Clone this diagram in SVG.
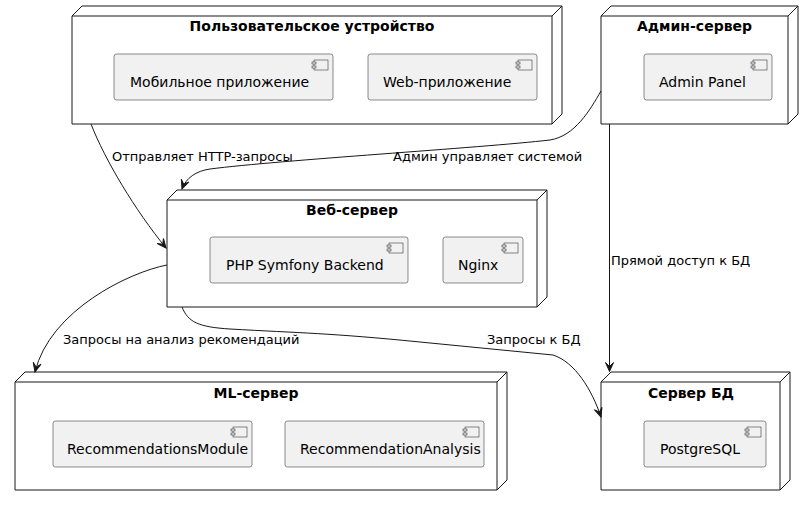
<svg xmlns="http://www.w3.org/2000/svg" width="812" height="506" viewBox="0 0 812 506">
<style>
.node{fill:#FFFFFF;stroke:#181818;stroke-width:1}
.nodeline{fill:none;stroke:#181818;stroke-width:1}
.title{font-family:"DejaVu Sans",sans-serif;font-size:14px;font-weight:bold;fill:#000;text-anchor:middle}
.comp{fill:#F1F1F1;stroke:#181818;stroke-width:0.5}
.icon{fill:#F1F1F1;stroke:#181818;stroke-width:0.5}
.ctext{font-family:"DejaVu Sans",sans-serif;font-size:14px;fill:#000}
.edge{fill:none;stroke:#181818;stroke-width:1}
.elabel{font-family:"DejaVu Sans",sans-serif;font-size:13px;fill:#000}
</style>
<defs>
<marker id="arr" viewBox="-10 -5 11 10" markerWidth="11" markerHeight="10" refX="0" refY="0" markerUnits="userSpaceOnUse" orient="auto">
<path d="M0,0 L-9,-4 L-5,0 L-9,4 Z" fill="#181818" stroke="#181818" stroke-width="1"/>
</marker>
<g id="cicon">
<rect x="-19" y="6" width="14" height="10" class="icon"/>
<rect x="-21" y="8" width="4" height="2" class="icon"/>
<rect x="-21" y="12" width="4" height="2" class="icon"/>
</g>
</defs>

<g id="user-device">
<path class="node" d="M72,16 L82,6 L562,6 L562,114 L552,124 L72,124 Z"/>
<path class="nodeline" d="M552,16 L562,6 M72,16 L552,16 L552,124"/>
<text class="title" x="312" y="31">Пользовательское устройство</text>
<g id="mobile-app">
<rect class="comp" x="114" y="54" width="219" height="46" rx="2.5"/>
<use href="#cicon" x="333" y="54"/>
<text class="ctext" x="130" y="87">Мобильное приложение</text>
</g>
<g id="web-app">
<rect class="comp" x="368" y="54" width="169" height="46" rx="2.5"/>
<use href="#cicon" x="537" y="54"/>
<text class="ctext" x="383" y="87">Web-приложение</text>
</g>
</g>

<g id="admin-server">
<path class="node" d="M601,16 L611,6 L798,6 L798,114 L788,124 L601,124 Z"/>
<path class="nodeline" d="M788,16 L798,6 M601,16 L788,16 L788,124"/>
<text class="title" x="694.5" y="31">Админ-сервер</text>
<g id="admin-panel">
<rect class="comp" x="644" y="54" width="128" height="46" rx="2.5"/>
<use href="#cicon" x="772" y="54"/>
<text class="ctext" x="659" y="87">Admin Panel</text>
</g>
</g>

<g id="web-server">
<path class="node" d="M167,200 L177,190 L547,190 L547,297 L537,307 L167,307 Z"/>
<path class="nodeline" d="M537,200 L547,190 M167,200 L537,200 L537,307"/>
<text class="title" x="352" y="215">Веб-сервер</text>
<g id="php-backend">
<rect class="comp" x="210" y="237" width="198" height="46" rx="2.5"/>
<use href="#cicon" x="408" y="237"/>
<text class="ctext" x="226" y="270">PHP Symfony Backend</text>
</g>
<g id="nginx">
<rect class="comp" x="443" y="237" width="80" height="46" rx="2.5"/>
<use href="#cicon" x="523" y="237"/>
<text class="ctext" x="458" y="270">Nginx</text>
</g>
</g>

<g id="ml-server">
<path class="node" d="M15,382 L25,372 L507,372 L507,480 L497,490 L15,490 Z"/>
<path class="nodeline" d="M497,382 L507,372 M15,382 L497,382 L497,490"/>
<text class="title" x="256" y="398">ML-сервер</text>
<g id="recommendations-module">
<rect class="comp" x="53" y="421" width="199" height="46" rx="2.5"/>
<use href="#cicon" x="252" y="421"/>
<text class="ctext" x="67" y="454">RecommendationsModule</text>
</g>
<g id="recommendation-analysis">
<rect class="comp" x="285" y="421" width="199" height="46" rx="2.5"/>
<use href="#cicon" x="484" y="421"/>
<text class="ctext" x="300" y="454">RecommendationAnalysis</text>
</g>
</g>

<g id="db-server">
<path class="node" d="M601,382 L611,372 L790,372 L790,480 L780,490 L601,490 Z"/>
<path class="nodeline" d="M780,382 L790,372 M601,382 L780,382 L780,490"/>
<text class="title" x="691" y="398">Сервер БД</text>
<g id="postgresql">
<rect class="comp" x="644" y="421" width="122" height="46" rx="2.5"/>
<use href="#cicon" x="766" y="421"/>
<text class="ctext" x="660" y="454">PostgreSQL</text>
</g>
</g>

<g id="connectors">
<path class="edge" marker-end="url(#arr)" d="M91,124 C105,160 135,210 166,248"/>
<text class="elabel" x="112" y="161">Отправляет HTTP-запросы</text>
<path class="edge" marker-end="url(#arr)" d="M601,91 C590,110 575,136 550,140 C480,148 280,160 210,169 C196,171 186,178 182,189"/>
<text class="elabel" x="393" y="161">Админ управляет системой</text>
<path class="edge" marker-end="url(#arr)" d="M609.5,124 L609.5,371.5"/>
<text class="elabel" x="611" y="265">Прямой доступ к БД</text>
<path class="edge" marker-end="url(#arr)" d="M167,265 C130,272 50,310 35,372"/>
<text class="elabel" x="63" y="344">Запросы на анализ рекомендаций</text>
<path class="edge" marker-end="url(#arr)" d="M182,307 C188,322 198,327 230,329 C300,333 330,333 420,342 L553,355 C575,362 592,390 601,417"/>
<text class="elabel" x="487" y="344">Запросы к БД</text>
</g>
</svg>
